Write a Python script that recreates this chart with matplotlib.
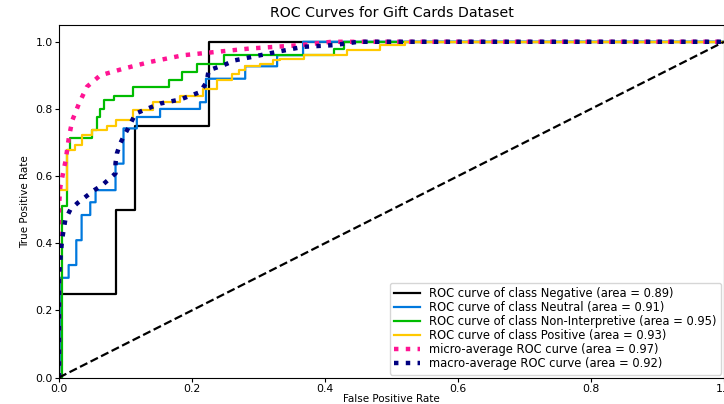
import matplotlib
matplotlib.use("Agg")
import matplotlib.pyplot as plt

# Per-class ROC curves (fpr, tpr)
neg_fpr = [0.0, 0.0, 0.086, 0.086, 0.115, 0.115, 0.226, 0.226, 1.0]
neg_tpr = [0.0, 0.25, 0.25, 0.5, 0.5, 0.75, 0.75, 1.0, 1.0]

neu_fpr = [0.0, 0.002, 0.002, 0.0145, 0.0145, 0.026, 0.026, 0.034, 0.034, 0.047, 0.047,
           0.055, 0.055, 0.085, 0.085, 0.097, 0.097, 0.117, 0.117, 0.152, 0.152,
           0.212, 0.212, 0.221, 0.221, 0.28, 0.28, 0.328, 0.328, 0.367, 0.367, 1.0]
neu_tpr = [0.0, 0.07, 0.297, 0.297, 0.335, 0.335, 0.409, 0.409, 0.484, 0.484, 0.522,
           0.522, 0.558, 0.558, 0.637, 0.637, 0.742, 0.742, 0.776, 0.776, 0.80,
           0.80, 0.82, 0.82, 0.89, 0.89, 0.927, 0.927, 0.96, 0.96, 1.0, 1.0]

nonint_fpr = [0.0, 0.004, 0.004, 0.012, 0.012, 0.017, 0.017, 0.05, 0.05, 0.057, 0.057,
              0.062, 0.062, 0.067, 0.067, 0.082, 0.082, 0.112, 0.112, 0.165, 0.165,
              0.185, 0.185, 0.207, 0.207, 0.248, 0.248, 0.413, 0.413, 0.428, 0.428, 1.0]
nonint_tpr = [0.0, 0.0, 0.51, 0.51, 0.677, 0.677, 0.712, 0.712, 0.737, 0.737, 0.776,
              0.776, 0.80, 0.80, 0.826, 0.826, 0.84, 0.84, 0.865, 0.865, 0.887,
              0.887, 0.91, 0.91, 0.935, 0.935, 0.96, 0.96, 0.98, 0.98, 1.0, 1.0]

pos_fpr = [0.0, 0.0, 0.012, 0.012, 0.024, 0.024, 0.035, 0.035, 0.05, 0.05, 0.072, 0.072,
           0.085, 0.085, 0.112, 0.112, 0.142, 0.142, 0.182, 0.182, 0.217, 0.217,
           0.238, 0.238, 0.26, 0.26, 0.27, 0.27, 0.28, 0.28, 0.303, 0.303, 0.322, 0.322,
           0.333, 0.333, 0.368, 0.368, 0.433, 0.433, 0.483, 0.483, 0.52, 0.52, 1.0]
pos_tpr = [0.0, 0.558, 0.558, 0.677, 0.677, 0.692, 0.692, 0.722, 0.722, 0.737, 0.737, 0.75,
           0.75, 0.766, 0.766, 0.796, 0.796, 0.821, 0.821, 0.84, 0.84, 0.86,
           0.86, 0.885, 0.885, 0.905, 0.905, 0.915, 0.915, 0.927, 0.927, 0.935, 0.935,
           0.945, 0.945, 0.95, 0.95, 0.96, 0.96, 0.975, 0.975, 0.99, 0.99, 1.0, 1.0]

micro_fpr = [0.0, 0.0, 0.002, 0.01, 0.015, 0.02, 0.03, 0.042, 0.062, 0.097, 0.137,
             0.187, 0.237, 0.287, 0.363, 0.41, 1.0]
micro_tpr = [0.0, 0.51, 0.568, 0.647, 0.717, 0.766, 0.816, 0.866, 0.90, 0.92, 0.94,
             0.96, 0.97, 0.98, 0.99, 1.0, 1.0]

macro_fpr = [0.0, 0.0, 0.002, 0.0045, 0.0095, 0.017, 0.028, 0.053, 0.065, 0.085, 0.085,
             0.087, 0.092, 0.097, 0.105, 0.115, 0.132, 0.152, 0.182, 0.212, 0.222,
             0.225, 0.247, 0.265, 0.328, 0.367, 0.413, 0.45, 1.0]
macro_tpr = [0.0, 0.30, 0.35, 0.41, 0.47, 0.50, 0.52, 0.558, 0.573, 0.608, 0.638,
             0.667, 0.697, 0.717, 0.746, 0.786, 0.80, 0.816, 0.828, 0.85, 0.88,
             0.915, 0.93, 0.945, 0.97, 0.985, 0.99, 1.0, 1.0]

class_names = ["Negative", "Neutral", "Non-Interpretive", "Positive"]
class_areas = [0.89, 0.91, 0.95, 0.93]
micro_area = 0.97
macro_area = 0.92

curves = [(neg_fpr, neg_tpr), (neu_fpr, neu_tpr), (nonint_fpr, nonint_tpr), (pos_fpr, pos_tpr)]

fig = plt.figure(figsize=(7.24, 4.04), dpi=100)
ax = fig.add_axes([59 / 724, 1 - 377.5 / 404, 665 / 724, (377.5 - 25) / 404])

cmap = plt.get_cmap("nipy_spectral")
for i, (fpr, tpr) in enumerate(curves):
    ax.plot(fpr, tpr, lw=1.6, color=cmap(i / len(curves)),
            label="ROC curve of class {0} (area = {1:0.2f})".format(class_names[i], class_areas[i]))

ax.plot(micro_fpr, micro_tpr, color="deeppink", linestyle=":", linewidth=3.2,
        label="micro-average ROC curve (area = {0:0.2f})".format(micro_area))
ax.plot(macro_fpr, macro_tpr, color="navy", linestyle=":", linewidth=3.2,
        label="macro-average ROC curve (area = {0:0.2f})".format(macro_area))

ax.plot([0, 1], [0, 1], "k--", lw=1.6)
ax.set_xlim([0.0, 1.0])
ax.set_ylim([0.0, 1.05])
ax.set_title("ROC Curves for Gift Cards Dataset", fontsize=10.2, pad=6)
ax.set_xlabel("False Positive Rate", fontsize=7.5, labelpad=0.5)
ax.set_ylabel("True Positive Rate", fontsize=7.5)
ax.tick_params(labelsize=7.8, length=3, pad=1.5)
ax.legend(loc="lower right", fontsize=8.3, labelspacing=0.08, handlelength=2.2,
          borderaxespad=0.25)

fig.savefig("out.png", dpi=100)
